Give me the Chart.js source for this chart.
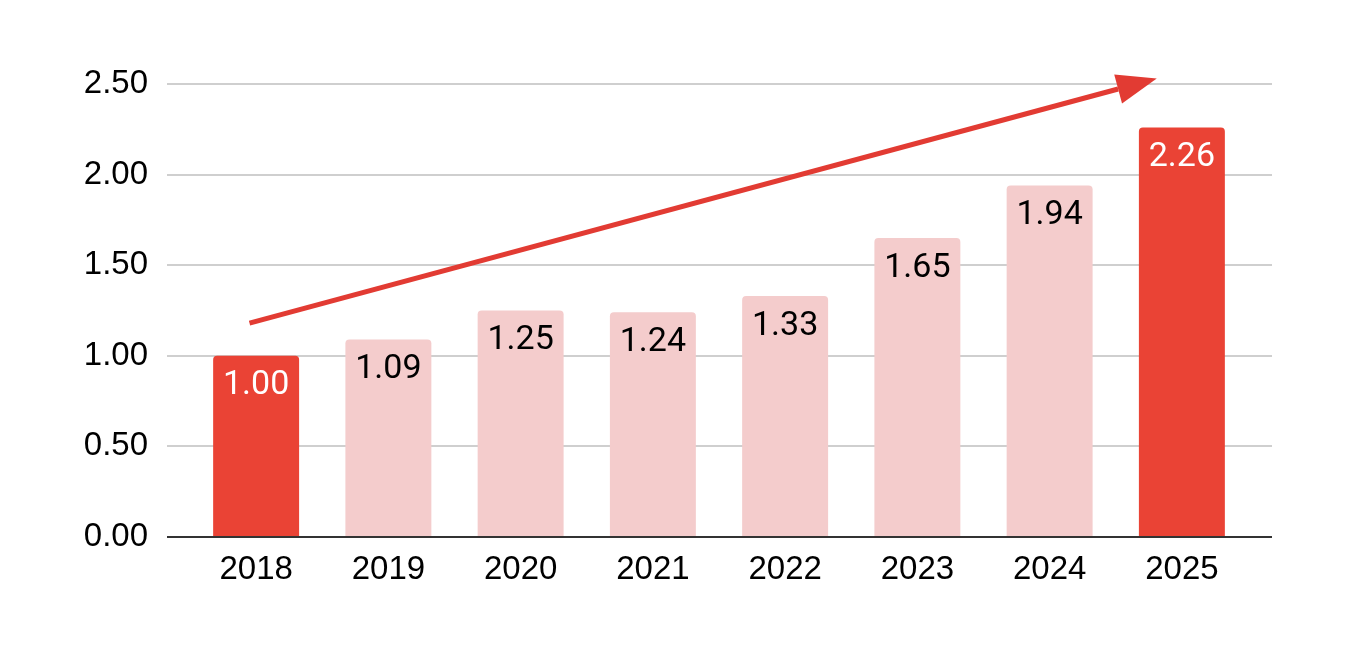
<!DOCTYPE html>
<html>
<head>
<meta charset="utf-8">
<script src="https://cdn.jsdelivr.net/npm/chart.js@4"></script>
<style>
  html, body { margin: 0; padding: 0; background: #fff; }
  canvas { display: block; }
</style>
</head>
<body>
<canvas id="growthChart" width="1360" height="654"></canvas>
<script>
// data
const years = ['2018', '2019', '2020', '2021', '2022', '2023', '2024', '2025'];
const values = [1.00, 1.09, 1.25, 1.24, 1.33, 1.65, 1.94, 2.26];
const highlighted = [true, false, false, false, false, false, false, true];
const yTicks = [0, 0.5, 1.0, 1.5, 2.0, 2.5];
// trend arrow, in data units (category index, value)
const arrowFrom = { x: -0.05, y: 1.18 };
const arrowTo = { x: 6.81, y: 2.53 };

const RED = '#EA4335';
const PINK = '#F4CCCC';

// grid lines run a bit past the bars on both sides
const extraGrid = {
    id: 'extraGrid',
    beforeDatasetsDraw(chart) {
        const { ctx, chartArea, scales } = chart;
        ctx.save();
        ctx.strokeStyle = '#cfcfcf';
        ctx.lineWidth = 2;
        yTicks.forEach(function (v) {
            if (v === 0) return;
            const y = Math.round(scales.y.getPixelForValue(v));
            ctx.beginPath();
            ctx.moveTo(chartArea.left - 23, y);
            ctx.lineTo(chartArea.right + 24, y);
            ctx.stroke();
        });
        ctx.restore();
    },
    afterDatasetsDraw(chart) {
        const { ctx, chartArea, scales } = chart;
        ctx.save();
        // baseline
        const y0 = scales.y.getPixelForValue(0);
        ctx.strokeStyle = '#333';
        ctx.lineWidth = 2;
        ctx.beginPath();
        ctx.moveTo(chartArea.left - 23, y0);
        ctx.lineTo(chartArea.right + 24, y0);
        ctx.stroke();

        // value labels inside bars
        const meta = chart.getDatasetMeta(0);
        ctx.font = '34px Roboto';
        ctx.textAlign = 'center';
        ctx.textBaseline = 'middle';
        meta.data.forEach(function (bar, i) {
            ctx.fillStyle = highlighted[i] ? '#fff' : '#000';
            ctx.fillText(values[i].toFixed(2), bar.x, bar.y + 30);
        });

        // trend arrow
        const x1 = scales.x.getPixelForValue(arrowFrom.x);
        const y1 = scales.y.getPixelForValue(arrowFrom.y);
        const x2 = scales.x.getPixelForValue(arrowTo.x);
        const y2 = scales.y.getPixelForValue(arrowTo.y);
        const ang = Math.atan2(y2 - y1, x2 - x1);
        const headLen = 40, headW = 15;
        const bx = x2 - headLen * Math.cos(ang);
        const by = y2 - headLen * Math.sin(ang);
        ctx.strokeStyle = '#E23B33';
        ctx.fillStyle = '#E23B33';
        ctx.lineWidth = 5;
        ctx.beginPath();
        ctx.moveTo(x1, y1);
        ctx.lineTo(bx, by);
        ctx.stroke();
        ctx.beginPath();
        ctx.moveTo(x2, y2);
        ctx.lineTo(bx + headW * Math.sin(ang), by - headW * Math.cos(ang));
        ctx.lineTo(bx - headW * Math.sin(ang), by + headW * Math.cos(ang));
        ctx.closePath();
        ctx.fill();
        ctx.restore();
    }
};

const ctx = document.getElementById('growthChart').getContext('2d');
new Chart(ctx, {
    type: 'bar',
    data: {
        labels: years,
        datasets: [{
            data: values,
            backgroundColor: highlighted.map(h => h ? RED : PINK),
            borderRadius: { topLeft: 4, topRight: 4, bottomLeft: 0, bottomRight: 0 },
            borderSkipped: false,
            categoryPercentage: 1,
            barPercentage: 0.65,
        }],
    },
    options: {
        responsive: false,
        animation: false,
        layout: { padding: { top: 84, right: 112, left: 0, bottom: 0 } },
        plugins: {
            legend: { display: false },
            tooltip: { enabled: false },
        },
        scales: {
            x: {
                grid: { display: false, drawTicks: false },
                border: { display: false },
                ticks: {
                    color: '#000',
                    padding: 13,
                    font: { family: '"Liberation Sans", Arial, sans-serif', size: 33 },
                },
                afterFit(scale) { scale.height = 117; },
            },
            y: {
                min: 0,
                max: 2.5,
                grid: { display: false, drawTicks: false },
                border: { display: false },
                ticks: {
                    stepSize: 0.5,
                    color: '#000',
                    padding: 42,
                    font: { family: '"Liberation Sans", Arial, sans-serif', size: 33 },
                    callback: v => v.toFixed(2),
                },
                afterFit(scale) { scale.width = 190; },
            },
        },
    },
    plugins: [extraGrid],
});
</script>
</body>
</html>
